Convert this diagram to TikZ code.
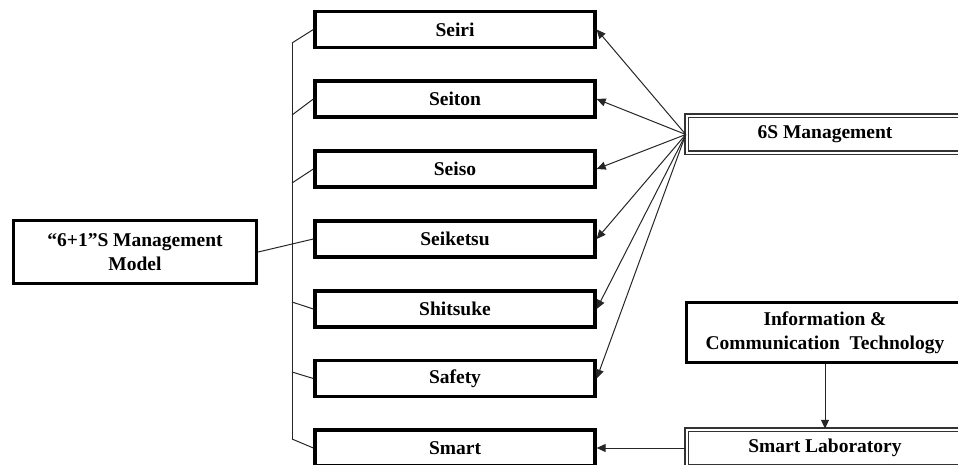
\documentclass[tikz,border=0pt]{standalone}
\usepackage{fontspec}
\setmainfont{Liberation Serif}
\usetikzlibrary{arrows.meta}

\tikzset{
  every node/.style={font=\bfseries\fontsize{19.5}{24}\selectfont, text=black, align=center, inner sep=0pt},
  sbox/.style={draw=black, line width=3.3pt, minimum width=280pt, minimum height=36pt},
  bigbox/.style={draw=black, line width=3.3pt},
  dbox/.style={draw=black!80, line width=1.5pt, double=white, double distance=2pt, minimum width=277pt, minimum height=37pt},
  link/.style={line width=1pt, draw=black!85},
  arr/.style={line width=1pt, draw=black!85, -{Triangle[length=9pt,width=8pt]}}
}

\begin{document}
\begin{tikzpicture}[x=1pt, y=-1pt]
  \useasboundingbox (0,0) rectangle (958,465);
  \clip (0,0) rectangle (958,465);

  % left: the model
  \node[bigbox, minimum width=243pt, minimum height=63pt] (model) at (135,252)
    {\textquotedblleft6+1\textquotedblright S Management\\Model};

  % the seven S boxes
  \node[sbox] (seiri)    at (455,29.5)  {Seiri};
  \node[sbox] (seiton)   at (455,99)    {Seiton};
  \node[sbox] (seiso)    at (455,169)   {Seiso};
  \node[sbox] (seiketsu) at (455,239)   {Seiketsu};
  \node[sbox] (shitsuke) at (455,309)   {Shitsuke};
  \node[sbox] (safety)   at (455,378.5) {Safety};
  \node[sbox] (smart)    at (455,448)   {Smart};

  % right column
  \node[dbox] (six) at (825,134.5) {6S Management};
  \node[bigbox, minimum width=277pt, minimum height=60pt] (ict) at (825,332.5)
    {Information \&\\Communication\hspace{0.25em} Technology};
  \node[dbox] (lab) at (825,448) {Smart Laboratory};

  % bracket joining the S boxes
  \coordinate (b1) at (292,43);
  \coordinate (b2) at (292,115);
  \coordinate (b3) at (292,183);
  \coordinate (b5) at (292,302);
  \coordinate (b6) at (292,372);
  \coordinate (b7) at (292,439);
  \draw[link] (b1) -- (b7);
  \draw[link] (b1) -- (seiri.west);
  \draw[link] (b2) -- (seiton.west);
  \draw[link] (b3) -- (seiso.west);
  \draw[link] (b5) -- (shitsuke.west);
  \draw[link] (b6) -- (safety.west);
  \draw[link] (b7) -- (smart.west);
  \draw[link] (model.east) -- (seiketsu.west);

  % 6S management fans out to the first six boxes
  \foreach \t in {seiri,seiton,seiso,seiketsu,shitsuke,safety}
    \draw[arr] (six.west) -- (\t.east);

  % ICT feeds the smart laboratory, which feeds Smart
  \draw[arr] (ict.south) -- (lab.north);
  \draw[arr] (lab.west) -- (smart.east);
\end{tikzpicture}
\end{document}
